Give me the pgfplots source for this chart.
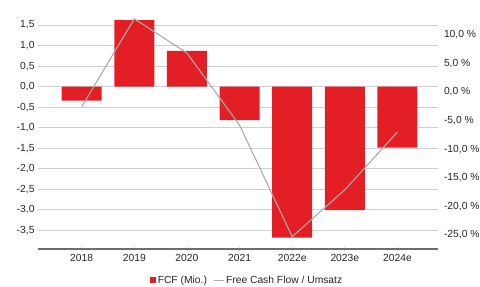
\documentclass[border=0pt]{standalone}
\usepackage{fontspec}
\setmainfont{Liberation Sans}
\usepackage{pgfplots}
\pgfplotsset{compat=1.18}
\definecolor{barred}{HTML}{E31E24}
\definecolor{linegray}{HTML}{ABABAB}
\definecolor{gridgray}{HTML}{CFCFCF}
\definecolor{axisgray}{HTML}{6E6E6E}
\begin{document}
\begin{tikzpicture}
\path[use as bounding box] (-38bp,-38bp) rectangle (442bp,249bp);
\begin{axis}[
  at={(0,0)}, anchor=south west,
  scale only axis, width=400bp, height=243bp,
  xmin=-0.83, xmax=6.77,
  ymin=-3.96, ymax=1.966,
  axis x line*=bottom, axis y line*=left,
  y axis line style={draw=none},
  x axis line style={draw=axisgray, line width=1.4bp, -},
  xtick={0,...,6},
  xticklabels={2018,2019,2020,2021,2022e,2023e,2024e},
  xtick style={draw=gridgray, line width=0.8bp},
  xtick align=center, major tick length=4bp,
  ytick={-3.5,-3,...,1.5},
  ytick style={draw=none},
  ymajorgrids, grid style={draw=gridgray, line width=0.8bp},
  /pgf/number format/assume math mode=true,
  yticklabel style={/pgf/number format/.cd, use comma, fixed, fixed zerofill, precision=1},
  tick label style={font=\fontsize{10.3bp}{12bp}\selectfont, text=black!85},
  legend style={at={(0.5225,-0.128)}, anchor=center, draw=none, fill=none,
    legend columns=2, font=\fontsize{10.3bp}{12bp}\selectfont, text=black!85,
    /tikz/every even column/.append style={column sep=5bp},
    nodes={inner sep=1.5bp}},
  legend cell align=left,
]
\addplot[ybar, bar width=40bp, bar shift=0pt, fill=barred, draw=none,
  legend image code/.code={\fill[barred] (0bp,-3bp) rectangle (6bp,3bp);}]
  coordinates {(0,-0.34) (1,1.62) (2,0.87) (3,-0.82) (4,-3.68) (5,-3.01) (6,-1.49)};
\addlegendentry{FCF (Mio.)}
\addlegendimage{legend image code/.code={\draw[linegray, line width=1.1bp] (0bp,0bp) -- (10bp,0bp);}}
\addlegendentry{Free Cash Flow / Umsatz}
\end{axis}
\begin{axis}[
  at={(0,0)}, anchor=south west,
  scale only axis, width=400bp, height=243bp,
  xmin=-0.83, xmax=6.77,
  ymin=-27.45, ymax=15.03,
  axis x line=none, axis y line*=right,
  y axis line style={draw=none},
  ytick={-25,-20,...,10},
  ytick style={draw=none},
  /pgf/number format/assume math mode=true,
  yticklabel={\pgfmathprintnumber[use comma, fixed, fixed zerofill, precision=1]{\tick}~\%},
  yticklabel style={xshift=2.5bp},
  tick label style={font=\fontsize{10.3bp}{12bp}\selectfont, text=black!85},
]
\addplot[linegray, line width=1.1bp, mark=none]
  coordinates {(0,-2.6) (1,12.8) (2,6.8) (3,-5.8) (4,-25.3) (5,-17.1) (6,-7.0)};
\end{axis}
\end{tikzpicture}
\end{document}
